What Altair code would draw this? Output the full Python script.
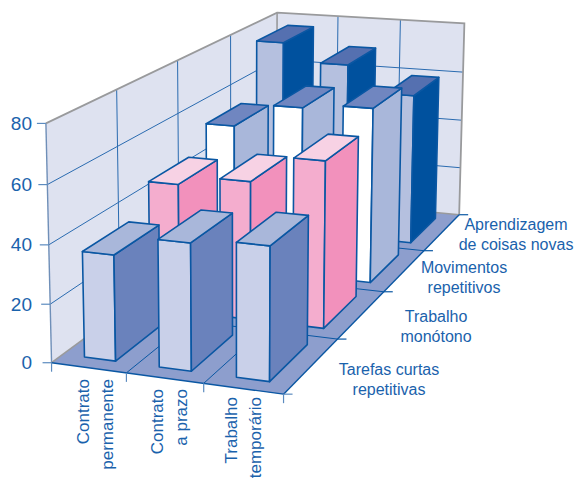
import numpy as np
import altair as alt

# Chart content
employment = ["Contrato\npermanente", "Contrato\na prazo", "Trabalho\ntemporário"]
conditions = ["Tarefas curtas\nrepetitivas", "Trabalho\nmonótono",
              "Movimentos\nrepetitivos", "Aprendizagem\nde coisas novas"]
tarefas_curtas = [36.1, 42.9, 44.7]
trabalho_monotono = [46.0, 49.4, 59.0]
movimentos = [54.8, 63.7, 65.5]
aprendizagem = [76.5, 69.3, 59.0]
value_ticks = [0, 20, 40, 60, 80]

series = [tarefas_curtas, trabalho_monotono, movimentos, aprendizagem]

# Face colours per series: front, side, top
palette = [
    ("#C9D0E9", "#6A82BC", "#A9B7DA"),
    ("#F4ADCE", "#F291BC", "#F7D2E4"),
    ("#FFFFFF", "#A9B7DA", "#7086C0"),
    ("#B5C0DF", "#00519E", "#5570B0"),
]
INK = "#0A57A3"
GRID = "#2A6BB0"
GREY = "#999A9C"
WALL = "#DEE2F0"
FLOOR = "#8D9ECD"
TEXT = "#1A62AC"
FONT = "Liberation Sans"

# Camera: category, value/20, depth -> canvas pixels
CAMERA = np.array([
    [72.87604, -1.75143, 77.83021, 51.56001],
    [4.29276, -60.73009, -25.91609, 362.72348],
    [-0.0157, -0.00733, 0.07839, 1.0],
])
NX, NZ, TOP = len(employment), len(conditions), value_ticks[-1]
BAR_X = (0.29, 0.71)
BAR_Z = (0.16, 0.84)


def pt(x, v, z):
    h = CAMERA @ np.array([x, v / 20, z, 1.0])
    return [float(h[0] / h[2]), float(h[1] / h[2])]


def polygon(corners, fill, stroke="none", width=0.0):
    ring = [pt(*c) for c in corners]
    return {"type": "Feature",
            "geometry": {"type": "Polygon", "coordinates": [ring + [ring[0]]]},
            "properties": {"fill": fill, "stroke": stroke, "sw": width}}


def line(points, stroke, width):
    return {"type": "Feature",
            "geometry": {"type": "LineString", "coordinates": points},
            "properties": {"stroke": stroke, "sw": width}}


def seg(a, b, stroke, width):
    return line([pt(*a), pt(*b)], stroke, width)


def nudge(p, dx, dy):
    return [p[0] + dx, p[1] + dy]


# Walls and floor
back_planes = [
    polygon([(0, 0, 0), (0, TOP, 0), (0, TOP, NZ), (0, 0, NZ)], WALL),
    polygon([(0, 0, NZ), (0, TOP, NZ), (NX, TOP, NZ), (NX, 0, NZ)], WALL),
]
wall_lines = []
for v in value_ticks[1:-1]:
    wall_lines.append(line([pt(0, v, 0), pt(0, v, NZ), pt(NX, v, NZ)], GRID, 1.0))
for z in range(1, NZ):
    wall_lines.append(seg((0, 0, z), (0, TOP, z), GRID, 1.0))
for x in range(1, NX):
    wall_lines.append(seg((x, 0, NZ), (x, TOP, NZ), GRID, 1.0))
wall_lines += [
    seg((0, 0, NZ), (0, TOP, NZ), GREY, 1.6),
    line([pt(0, TOP, 0), pt(0, TOP, NZ), pt(NX, TOP, NZ), pt(NX, 0, NZ)], GREY, 1.8),
    seg((0, 0, 0), (0, TOP, 0), "#6F8FB8", 1.4),
]
floor_planes = [polygon([(0, 0, 0), (NX, 0, 0), (NX, 0, NZ), (0, 0, NZ)], FLOOR)]
floor_lines = [seg((0, 0, 0), (0, 0, NZ), GREY, 1.6), seg((0, 0, NZ), (NX, 0, NZ), GREY, 1.6)]
for z in range(1, NZ):
    floor_lines.append(seg((0, 0, z), (NX, 0, z), INK, 1.0))
for x in range(1, NX):
    floor_lines.append(seg((x, 0, 0), (x, 0, NZ), INK, 1.0))
floor_lines += [seg((0, 0, 0), (NX, 0, 0), INK, 1.4), seg((NX, 0, 0), (NX, 0, NZ), INK, 1.4)]

# Bars, far row first and left to right so nearer faces cover farther ones
bars = []
for r in reversed(range(NZ)):
    front, side, top = palette[r]
    z0, z1 = r + BAR_Z[0], r + BAR_Z[1]
    for c in range(NX):
        x0, x1 = c + BAR_X[0], c + BAR_X[1]
        v = series[r][c]
        bars += [
            polygon([(x0, 0, z0), (x1, 0, z0), (x1, v, z0), (x0, v, z0)], front, INK, 1.6),
            polygon([(x1, 0, z0), (x1, 0, z1), (x1, v, z1), (x1, v, z0)], side, INK, 1.6),
            polygon([(x0, v, z0), (x1, v, z0), (x1, v, z1), (x0, v, z1)], top, INK, 1.6),
        ]

# Tick marks along the three axes
ticks = []
for v in value_ticks:
    p = pt(0, v, 0)
    ticks.append(line([nudge(p, -9, 0), p], "#5C8BBF", 1.2))
for x in range(NX + 1):
    p = pt(x, 0, 0)
    ticks.append(line([p, nudge(p, 0, 9)], "#5C8BBF", 1.2))
for z in range(NZ + 1):
    p = pt(NX, 0, z)
    ticks.append(line([p, nudge(p, 9, 0)], INK if z else "#5C8BBF", 1.2))

# Text anchors: multi-line labels hang from their first line
value_rows = [{"t": str(v), "lon": 32.0, "lat": pt(0, v, 0)[1] + 0.5} for v in value_ticks]
employment_rows = [{"t": t, "lon": lon, "lat": lat}
                   for t, lon, lat in zip(employment, [84.0, 157.5, 232.0], [379.0, 389.0, 397.0])]
condition_rows = [{"t": t, "lon": lon, "lat": lat}
                  for t, lon, lat in zip(conditions, [389.0, 436.0, 464.0, 516.0], [370.0, 317.0, 268.0, 225.0])]

PROJECTION = dict(type="identity", scale=1, translate=[0, 0])


def shapes(features, filled=True):
    enc = dict(stroke=alt.Stroke("properties.stroke:N", scale=None),
               strokeWidth=alt.StrokeWidth("properties.sw:Q", scale=None))
    if filled:
        mark = alt.Chart(alt.Data(values=features)).mark_geoshape(strokeJoin="round")
        enc["fill"] = alt.Fill("properties.fill:N", scale=None)
    else:
        mark = alt.Chart(alt.Data(values=features)).mark_geoshape(filled=False, fill="transparent")
    return mark.encode(**enc).project(**PROJECTION)


def labels(rows, **mark_args):
    return (alt.Chart(alt.Data(values=rows))
            .mark_text(font=FONT, color=TEXT, lineBreak="\n", **mark_args)
            .encode(longitude="lon:Q", latitude="lat:Q", text="t:N")
            .project(**PROJECTION))


chart = alt.layer(
    shapes(back_planes),
    shapes(wall_lines, filled=False),
    shapes(floor_planes),
    shapes(floor_lines, filled=False),
    shapes(bars),
    shapes(ticks, filled=False),
    labels(value_rows, fontSize=19, align="right", baseline="middle"),
    labels(employment_rows, fontSize=17, lineHeight=24, angle=270, align="right", baseline="middle"),
    labels(condition_rows, fontSize=16, lineHeight=19.5, align="center", baseline="middle"),
).properties(width=574, height=479, padding=0, autosize=alt.AutoSizeParams(type="none"),
             background="#FFFFFF").configure_view(stroke=None)

chart.save("out.html", embed_options={"renderer": "svg", "actions": False})
